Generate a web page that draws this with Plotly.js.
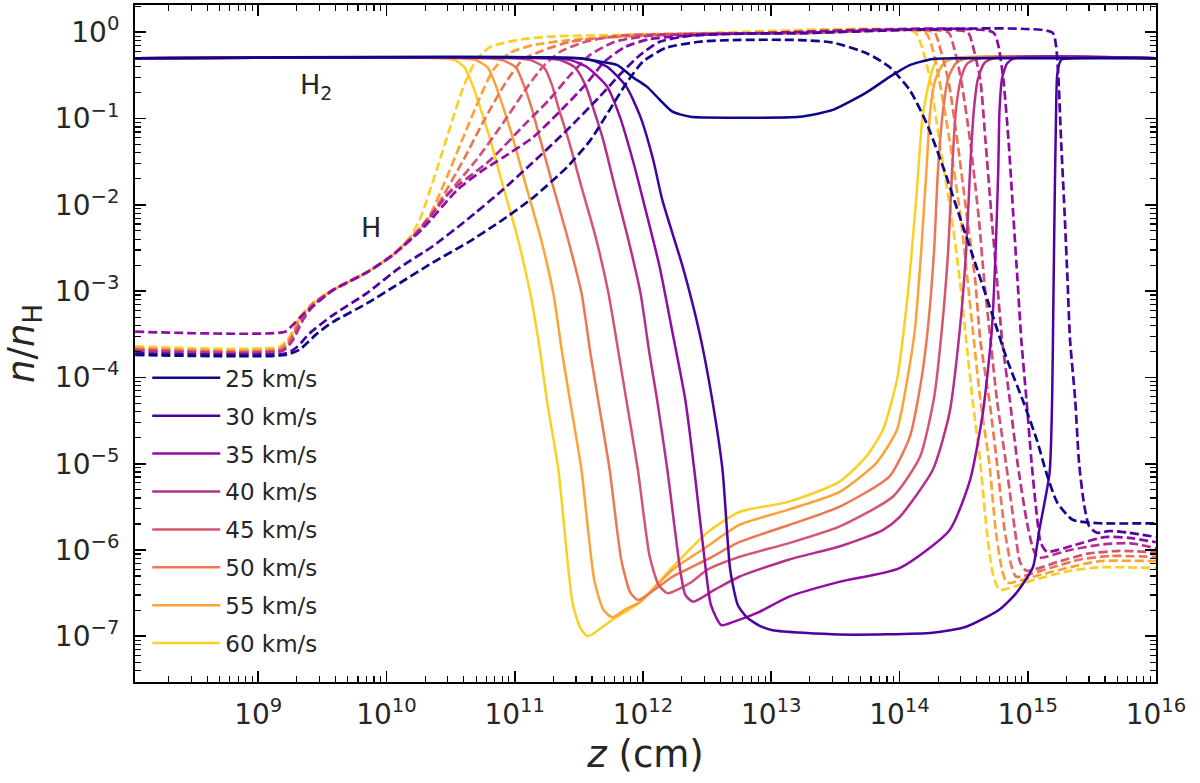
<!DOCTYPE html>
<html>
<head>
<meta charset="utf-8">
<script src="https://cdn.plot.ly/plotly-3.0.1.min.js"></script>
<style>
html, body { margin: 0; padding: 0; background: #fff; }
#chart { width: 1200px; height: 783px; }
</style>
</head>
<body>
<div id="chart"></div>
<script>
// shock velocities and their plasma colours
var velocities = [25, 30, 35, 40, 45, 50, 55, 60];
var lineColors = ['#0d0887', '#4a02a0', '#8f0da4', '#b52f8c', '#d5546e', '#ec7853', '#fba238', '#fccf25'];

// stored as log10(z / cm) and log10(n / nH)
// H2 (solid)
var h2Z25 = [8.04, 11.51, 11.66, 11.80, 11.92, 12.03, 12.13, 12.23, 12.37, 12.70, 13.22, 13.48, 13.74, 13.92, 14.08, 14.26, 14.47, 16.0];
var h2N25 = [-0.30, -0.30, -0.34, -0.38, -0.52, -0.63, -0.78, -0.92, -0.98, -0.99, -0.98, -0.90, -0.70, -0.52, -0.38, -0.31, -0.30, -0.30];
var h2Z30 = [8.04, 11.47, 11.59, 11.72, 11.87, 11.98, 12.08, 12.15, 12.31, 12.44, 12.54, 12.62, 12.68, 12.74, 12.81, 12.91, 13.01, 13.53, 14.26, 14.52, 14.78, 14.91, 15.04, 15.09, 15.17, 15.19, 15.20, 15.21, 15.22, 15.23, 15.26, 15.37, 16.0];
var h2N30 = [-0.30, -0.30, -0.32, -0.40, -0.63, -0.98, -1.48, -1.94, -2.72, -3.48, -4.26, -5.07, -6.23, -6.64, -6.78, -6.88, -6.93, -6.98, -6.96, -6.89, -6.69, -6.50, -6.20, -5.77, -5.11, -4.26, -3.10, -1.94, -1.02, -0.49, -0.32, -0.30, -0.30];
var h2Z35 = [8.04, 11.31, 11.43, 11.56, 11.72, 11.82, 11.92, 12.00, 12.13, 12.23, 12.33, 12.40, 12.48, 12.53, 12.61, 12.71, 12.89, 13.14, 13.53, 14.00, 14.39, 14.55, 14.65, 14.72, 14.75, 14.77, 14.78, 14.80, 14.84, 14.90, 16.0];
var h2N35 = [-0.30, -0.30, -0.32, -0.40, -0.63, -0.98, -1.48, -1.94, -2.72, -3.48, -4.26, -5.07, -6.11, -6.64, -6.87, -6.83, -6.73, -6.54, -6.37, -6.21, -5.77, -5.19, -4.41, -3.45, -2.52, -1.60, -0.90, -0.53, -0.36, -0.30, -0.30];
var h2Z40 = [8.04, 11.20, 11.35, 11.47, 11.55, 11.61, 11.69, 11.78, 11.88, 11.98, 12.05, 12.11, 12.19, 12.29, 12.33, 12.39, 12.56, 12.75, 13.14, 13.53, 13.87, 14.00, 14.26, 14.39, 14.47, 14.52, 14.55, 14.58, 14.61, 14.66, 14.74, 16.0];
var h2N40 = [-0.30, -0.30, -0.32, -0.41, -0.61, -0.87, -1.25, -1.79, -2.37, -3.02, -3.72, -4.26, -5.07, -6.23, -6.52, -6.60, -6.46, -6.31, -6.11, -5.96, -5.77, -5.62, -5.07, -4.41, -3.45, -2.52, -1.60, -0.90, -0.55, -0.36, -0.30, -0.30];
var h2Z45 = [8.04, 10.96, 11.12, 11.23, 11.29, 11.34, 11.42, 11.52, 11.63, 11.73, 11.81, 11.87, 11.96, 12.05, 12.12, 12.19, 12.37, 12.50, 12.75, 13.14, 13.53, 13.95, 14.16, 14.27, 14.33, 14.38, 14.41, 14.44, 14.48, 14.53, 14.63, 16.0];
var h2N45 = [-0.30, -0.30, -0.32, -0.41, -0.61, -0.87, -1.25, -1.79, -2.37, -3.02, -3.72, -4.26, -5.07, -6.06, -6.40, -6.50, -6.38, -6.23, -6.08, -5.92, -5.73, -5.38, -4.92, -4.23, -3.45, -2.52, -1.60, -0.90, -0.53, -0.36, -0.30, -0.30];
var h2Z50 = [8.04, 10.75, 10.90, 11.01, 11.07, 11.13, 11.20, 11.30, 11.41, 11.52, 11.59, 11.65, 11.74, 11.83, 11.90, 11.96, 12.09, 12.23, 12.50, 12.75, 13.14, 13.53, 13.92, 14.08, 14.17, 14.22, 14.27, 14.30, 14.34, 14.38, 14.44, 14.53, 16.0];
var h2N50 = [-0.30, -0.30, -0.32, -0.41, -0.61, -0.87, -1.25, -1.79, -2.37, -3.02, -3.72, -4.26, -5.07, -6.11, -6.49, -6.58, -6.46, -6.31, -6.11, -5.91, -5.71, -5.50, -5.15, -4.69, -4.03, -3.45, -2.52, -1.60, -0.90, -0.53, -0.36, -0.30, -0.30];
var h2Z55 = [8.04, 10.53, 10.69, 10.79, 10.85, 10.91, 10.99, 11.09, 11.20, 11.30, 11.37, 11.43, 11.52, 11.62, 11.69, 11.76, 11.86, 11.98, 12.23, 12.50, 12.75, 13.14, 13.53, 13.82, 13.98, 14.06, 14.12, 14.17, 14.21, 14.24, 14.28, 14.34, 14.43, 16.0];
var h2N55 = [-0.30, -0.30, -0.32, -0.41, -0.61, -0.87, -1.25, -1.79, -2.37, -3.02, -3.72, -4.26, -5.07, -6.35, -6.69, -6.78, -6.69, -6.60, -6.23, -5.96, -5.71, -5.53, -5.33, -4.99, -4.61, -4.03, -3.45, -2.52, -1.60, -0.90, -0.55, -0.37, -0.30, -0.30];
var h2Z60 = [8.04, 10.42, 10.53, 10.61, 10.67, 10.73, 10.81, 10.91, 11.02, 11.12, 11.20, 11.25, 11.34, 11.45, 11.51, 11.57, 11.74, 11.98, 12.23, 12.50, 12.75, 13.14, 13.53, 13.74, 13.87, 13.98, 14.06, 14.13, 14.18, 14.24, 14.29, 14.39, 16.0];
var h2N60 = [-0.30, -0.30, -0.32, -0.41, -0.61, -0.87, -1.25, -1.79, -2.37, -3.02, -3.72, -4.26, -5.07, -6.61, -6.90, -7.00, -6.83, -6.60, -6.20, -5.80, -5.56, -5.44, -5.21, -4.92, -4.61, -4.03, -3.10, -1.94, -0.98, -0.52, -0.32, -0.30, -0.30];

// H (dashed)
var hZ25 = [8.04, 9.21, 9.32, 9.46, 9.58, 9.85, 10.10, 10.36, 10.63, 10.88, 11.14, 11.41, 11.59, 11.74, 11.87, 12.00, 12.18, 12.44, 12.70, 13.22, 13.48, 13.74, 13.92, 14.08, 14.21, 14.34, 14.47, 14.60, 14.73, 14.84, 14.96, 15.07, 15.15, 15.23, 15.35, 15.56, 16.0];
var hN25 = [-3.74, -3.74, -3.68, -3.49, -3.36, -3.14, -2.91, -2.67, -2.44, -2.20, -1.92, -1.56, -1.25, -0.90, -0.59, -0.34, -0.18, -0.11, -0.09, -0.09, -0.12, -0.24, -0.40, -0.67, -1.05, -1.56, -2.14, -2.72, -3.30, -3.80, -4.26, -4.72, -5.13, -5.45, -5.65, -5.69, -5.69];
var hZ30 = [8.04, 9.22, 9.30, 9.40, 9.58, 9.85, 10.10, 10.36, 10.63, 10.88, 11.14, 11.41, 11.66, 11.82, 11.98, 12.13, 12.37, 12.68, 13.22, 15.19, 15.22, 15.24, 15.26, 15.29, 15.31, 15.33, 15.37, 15.40, 15.44, 15.48, 15.54, 15.64, 15.79, 16.0];
var hN30 = [-3.72, -3.72, -3.65, -3.49, -3.28, -3.02, -2.73, -2.48, -2.17, -1.86, -1.51, -1.13, -0.75, -0.49, -0.26, -0.11, -0.04, -0.02, -0.01, 0, -0.15, -0.55, -1.25, -2.18, -2.87, -3.57, -4.26, -4.99, -5.48, -5.73, -5.80, -5.78, -5.80, -5.85];
var hZ35 = [8.04, 9.21, 9.27, 9.35, 9.44, 9.58, 9.85, 10.05, 10.28, 10.55, 10.73, 10.91, 11.14, 11.35, 11.55, 11.70, 11.86, 12.05, 12.44, 12.91, 14.73, 14.77, 14.81, 14.85, 14.89, 14.92, 14.95, 14.99, 15.03, 15.07, 15.10, 15.15, 15.37, 15.60, 15.79, 16.0];
var hN35 = [-3.47, -3.47, -3.39, -3.27, -3.16, -2.99, -2.78, -2.58, -2.28, -1.83, -1.62, -1.45, -1.22, -0.92, -0.61, -0.34, -0.17, -0.08, -0.03, -0.01, 0, -0.15, -0.55, -1.25, -2.18, -2.87, -3.57, -4.26, -4.99, -5.59, -5.91, -6.02, -5.94, -5.85, -5.86, -5.91];
var hZ40 = [8.04, 9.19, 9.27, 9.35, 9.44, 9.58, 9.85, 10.05, 10.26, 10.49, 10.81, 11.09, 11.27, 11.43, 11.59, 11.78, 12.05, 12.44, 13.22, 14.53, 14.57, 14.63, 14.67, 14.72, 14.76, 14.80, 14.86, 14.92, 14.99, 15.04, 15.08, 15.33, 15.56, 15.79, 16.0];
var hN40 = [-3.69, -3.69, -3.57, -3.33, -3.15, -2.99, -2.78, -2.58, -2.29, -1.86, -1.48, -1.05, -0.78, -0.50, -0.26, -0.11, -0.04, -0.02, -0.01, 0, -0.15, -0.55, -1.25, -2.18, -2.87, -3.57, -4.26, -4.99, -5.65, -5.98, -6.09, -6.00, -5.94, -5.92, -5.98];
var hZ45 = [8.04, 9.19, 9.26, 9.34, 9.43, 9.58, 9.85, 10.05, 10.24, 10.44, 10.70, 10.91, 11.10, 11.22, 11.35, 11.55, 11.82, 12.29, 13.22, 14.38, 14.42, 14.48, 14.55, 14.62, 14.66, 14.71, 14.76, 14.83, 14.90, 14.94, 14.99, 15.25, 15.48, 15.72, 16.0];
var hN45 = [-3.68, -3.68, -3.55, -3.33, -3.15, -2.99, -2.78, -2.58, -2.31, -1.94, -1.48, -1.05, -0.63, -0.40, -0.23, -0.11, -0.04, -0.02, -0.01, 0, -0.15, -0.55, -1.25, -2.18, -2.87, -3.57, -4.26, -4.99, -5.77, -6.14, -6.24, -6.13, -6.04, -6.01, -6.03];
var hZ50 = [8.04, 9.18, 9.26, 9.33, 9.43, 9.58, 9.85, 10.05, 10.22, 10.39, 10.60, 10.75, 10.91, 11.06, 11.22, 11.43, 11.82, 12.44, 13.22, 14.27, 14.31, 14.38, 14.45, 14.53, 14.59, 14.63, 14.70, 14.76, 14.82, 14.87, 14.91, 15.17, 15.41, 15.64, 16.0];
var hN50 = [-3.67, -3.67, -3.54, -3.32, -3.14, -2.99, -2.78, -2.58, -2.34, -2.02, -1.48, -1.05, -0.63, -0.32, -0.21, -0.11, -0.05, -0.02, -0.01, 0, -0.15, -0.55, -1.25, -2.18, -2.87, -3.57, -4.26, -4.99, -5.77, -6.17, -6.31, -6.21, -6.11, -6.07, -6.08];
var hZ55 = [8.04, 9.17, 9.25, 9.32, 9.43, 9.58, 9.85, 10.05, 10.20, 10.32, 10.47, 10.60, 10.73, 10.83, 10.96, 11.14, 11.43, 12.05, 12.83, 14.20, 14.25, 14.31, 14.39, 14.48, 14.53, 14.58, 14.63, 14.70, 14.75, 14.80, 14.84, 15.09, 15.33, 15.56, 16.0];
var hN55 = [-3.66, -3.66, -3.53, -3.32, -3.14, -2.99, -2.78, -2.58, -2.36, -2.17, -1.68, -1.21, -0.75, -0.44, -0.24, -0.15, -0.09, -0.03, -0.01, 0, -0.15, -0.55, -1.25, -2.18, -2.87, -3.57, -4.26, -4.99, -5.77, -6.23, -6.38, -6.29, -6.20, -6.13, -6.13];
var hZ60 = [8.04, 9.17, 9.25, 9.32, 9.43, 9.58, 9.85, 10.05, 10.18, 10.26, 10.39, 10.49, 10.60, 10.70, 10.81, 11.02, 11.27, 11.82, 12.44, 14.12, 14.17, 14.24, 14.31, 14.41, 14.47, 14.52, 14.57, 14.63, 14.68, 14.73, 14.78, 15.04, 15.30, 15.56, 16.0];
var hN60 = [-3.64, -3.64, -3.52, -3.31, -3.13, -2.99, -2.78, -2.58, -2.38, -2.17, -1.60, -1.13, -0.63, -0.32, -0.17, -0.09, -0.05, -0.03, -0.01, 0, -0.15, -0.55, -1.25, -2.18, -2.87, -3.57, -4.26, -4.99, -5.77, -6.29, -6.46, -6.35, -6.25, -6.20, -6.21];

var h2Z = [h2Z25, h2Z30, h2Z35, h2Z40, h2Z45, h2Z50, h2Z55, h2Z60];
var h2N = [h2N25, h2N30, h2N35, h2N40, h2N45, h2N50, h2N55, h2N60];
var hZ = [hZ25, hZ30, hZ35, hZ40, hZ45, hZ50, hZ55, hZ60];
var hN = [hN25, hN30, hN35, hN40, hN45, hN50, hN55, hN60];

// tick labels
var xExp = [9, 10, 11, 12, 13, 14, 15, 16];
var yExp = [-7, -6, -5, -4, -3, -2, -1, 0];

function pow10(arr) {
    return arr.map(function(v) { return Math.pow(10, v); });
}

function powLabel(e) {
    return '10<sup>' + (e < 0 ? '\u2212' + (-e) : e) + '</sup>';
}

// minor ticks at 2..9 x 10^e inside the range
function minorVals(eLo, eHi, lo, hi) {
    var out = [];
    for (var e = eLo; e <= eHi; e++) {
        for (var m = 2; m < 10; m++) {
            var v = m * Math.pow(10, e);
            if (v > lo && v < hi) out.push(v);
        }
    }
    return out;
}

var xRange = [8.039, 16.0];
var yRange = [-7.53, 0.316];

var data = [];
// draw fast ones first so the 25 km/s lines end up on top
for (var i = velocities.length - 1; i >= 0; i--) {
    data.push({
        type: 'scatter',
        mode: 'lines',
        x: pow10(hZ[i]),
        y: pow10(hN[i]),
        line: {color: lineColors[i], width: 2.7, dash: '9px,4px', shape: 'spline', smoothing: 0.6},
        showlegend: false,
        hoverinfo: 'skip'
    });
    data.push({
        type: 'scatter',
        mode: 'lines',
        name: velocities[i] + ' km/s',
        legendgroup: 'v' + velocities[i],
        legendrank: i + 1,
        x: pow10(h2Z[i]),
        y: pow10(h2N[i]),
        line: {color: lineColors[i], width: 2.5, shape: 'spline', smoothing: 0.6},
        hoverinfo: 'skip'
    });
}

var axisBase = {
    type: 'log',
    showgrid: false,
    zeroline: false,
    showline: true,
    linecolor: '#000',
    linewidth: 2,
    mirror: 'allticks',
    ticks: 'inside',
    ticklen: 11,
    tickwidth: 1.6,
    tickcolor: '#000',
    tickmode: 'array',
    tickfont: {size: 28, color: '#262626'}
};

var layout = {
    width: 1200,
    height: 783,
    margin: {l: 135, r: 44, t: 5, b: 101},
    paper_bgcolor: '#fff',
    plot_bgcolor: '#fff',
    font: {family: 'DejaVu Sans, sans-serif', color: '#262626'},
    showlegend: true,
    legend: {
        x: 0.012, y: 0.481, xanchor: 'left', yanchor: 'top',
        bgcolor: 'rgba(0,0,0,0)',
        font: {size: 23, color: '#262626'},
        traceorder: 'grouped',
        tracegroupgap: 5,
        itemwidth: 68
    },
    xaxis: Object.assign({}, axisBase, {
        range: xRange,
        tickvals: pow10(xExp),
        ticktext: xExp.map(powLabel),
        ticklabelstandoff: 6,
        minor: {tickmode: 'array', tickvals: minorVals(8, 15, Math.pow(10, xRange[0]), 1e16), ticks: 'inside', ticklen: 6, tickwidth: 1.2, tickcolor: '#000', showgrid: false},
        title: {text: '<i>z</i> (cm)', font: {size: 37, color: '#262626'}, standoff: 12}
    }),
    yaxis: Object.assign({}, axisBase, {
        range: yRange,
        tickvals: pow10(yExp),
        ticktext: yExp.map(powLabel),
        ticklabelstandoff: 8,
        minor: {tickmode: 'array', tickvals: minorVals(-8, 0, Math.pow(10, yRange[0]), Math.pow(10, yRange[1])), ticks: 'inside', ticklen: 6, tickwidth: 1.2, tickcolor: '#000', showgrid: false},
        title: {text: '<i>n</i>/<i>n</i><sub>H</sub>', font: {size: 37, color: '#262626'}, standoff: 10}
    }),
    annotations: [
        {x: 9.45, y: -0.63, xref: 'x', yref: 'y', text: 'H<sub>2</sub>', showarrow: false, font: {size: 27, color: '#262626'}},
        {x: 9.88, y: -2.26, xref: 'x', yref: 'y', text: 'H', showarrow: false, font: {size: 27, color: '#262626'}}
    ]
};

Plotly.newPlot('chart', data, layout, {displayModeBar: false, staticPlot: true});
</script>
</body>
</html>
